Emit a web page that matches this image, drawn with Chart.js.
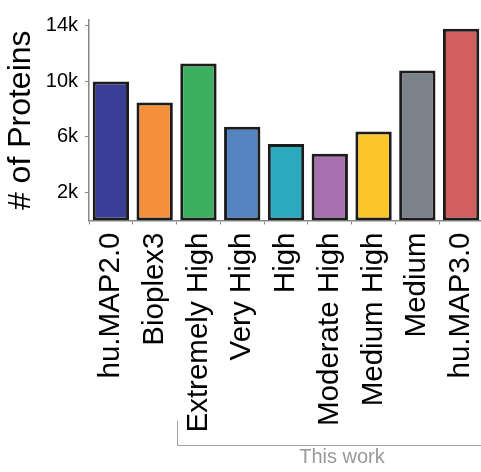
<!DOCTYPE html>
<html>
<head>
<meta charset="utf-8">
<script src="https://cdn.jsdelivr.net/npm/chart.js@4.4.1/dist/chart.umd.min.js"></script>
<style>
  html, body { margin: 0; padding: 0; background: #fff; overflow: hidden; }
  #wrap { width: 484px; height: 472px; }
</style>
</head>
<body>
<div id="wrap"><canvas id="chart" width="484" height="472"></canvas></div>
<script>
// Protein counts per interaction map / confidence tier
const categories = ['hu.MAP2.0', 'Bioplex3', 'Extremely High', 'Very High', 'High',
                    'Moderate High', 'Medium High', 'Medium', 'hu.MAP3.0'];
const proteinCounts = [9990, 8480, 11280, 6730, 5490, 4800, 6400, 10780, 13770];
const barColors = ['#3a3e96', '#f5903a', '#3cb05f', '#5582c0', '#2aa9bf',
                   '#a870ae', '#ffc62a', '#7b8289', '#d05f5e'];
const yTickValues = [2000, 6000, 10000, 14000];
const yTickLabels = ['2k', '6k', '10k', '14k'];
const groupLabel = 'This work';

const FONT = "'Liberation Sans', Arial, Helvetica, sans-serif";
const AXIS_GREY = '#888888';

// Bracket + caption under the tiers produced in this study
const groupBracket = {
  id: 'groupBracket',
  afterDraw(chart) {
    const { ctx } = chart;
    const x = chart.scales.x;
    const x0 = Math.round(x.getPixelForValue(1.5)) + 0.5;
    const yTop = 421, yLine = 445.5;
    ctx.save();
    ctx.strokeStyle = '#a0a0a0';
    ctx.lineWidth = 1;
    ctx.beginPath();
    ctx.moveTo(x0, yTop);
    ctx.lineTo(x0, yLine);
    ctx.lineTo(chart.width, yLine);
    ctx.stroke();
    ctx.fillStyle = '#999999';
    ctx.font = '20px ' + FONT;
    ctx.textAlign = 'center';
    ctx.textBaseline = 'middle';
    ctx.fillText(groupLabel, 342, 457);
    ctx.restore();
  }
};

new Chart(document.getElementById('chart'), {
  type: 'bar',
  data: {
    labels: categories,
    datasets: [{
      data: proteinCounts,
      backgroundColor: barColors,
      borderColor: '#1c1c1c',
      borderWidth: 3,
      borderSkipped: false,
      categoryPercentage: 1,
      barPercentage: 0.83
    }]
  },
  options: {
    responsive: false,
    animation: false,
    devicePixelRatio: 1,
    layout: { padding: { top: 20, right: 1, left: 0, bottom: 0 } },
    plugins: { legend: { display: false }, tooltip: { enabled: false } },
    scales: {
      x: {
        grid: { drawOnChartArea: false, drawTicks: true, tickLength: 4, tickColor: AXIS_GREY, tickWidth: 1 },
        border: { color: AXIS_GREY, width: 1.5 },
        ticks: {
          color: '#000',
          font: { family: FONT, size: 29.5 },
          minRotation: 90, maxRotation: 90,
          padding: 8,
          autoSkip: false
        },
        afterFit(scale) {
          scale.height = 251.5;
          scale.paddingLeft = 0;
          scale.paddingRight = 0;
        }
      },
      y: {
        min: 0,
        max: 14400,
        grid: { drawOnChartArea: false, drawTicks: true, tickLength: 4, tickColor: AXIS_GREY, tickWidth: 1 },
        border: { color: AXIS_GREY, width: 1.5 },
        afterBuildTicks(scale) {
          scale.ticks = yTickValues.map(v => ({ value: v }));
        },
        ticks: {
          color: '#000',
          font: { family: FONT, size: 20 },
          padding: 7,
          callback(value) {
            const i = yTickValues.indexOf(value);
            return i >= 0 ? yTickLabels[i] : '';
          }
        },
        title: {
          display: true,
          text: '# of Proteins',
          color: '#000',
          font: { family: FONT, size: 32 },
          padding: { top: 2, bottom: 0 }
        },
        afterFit(scale) {
          scale.width = 89;
          scale.paddingTop = 0;
          scale.paddingBottom = 0;
        }
      }
    }
  },
  plugins: [groupBracket]
});
</script>
</body>
</html>
